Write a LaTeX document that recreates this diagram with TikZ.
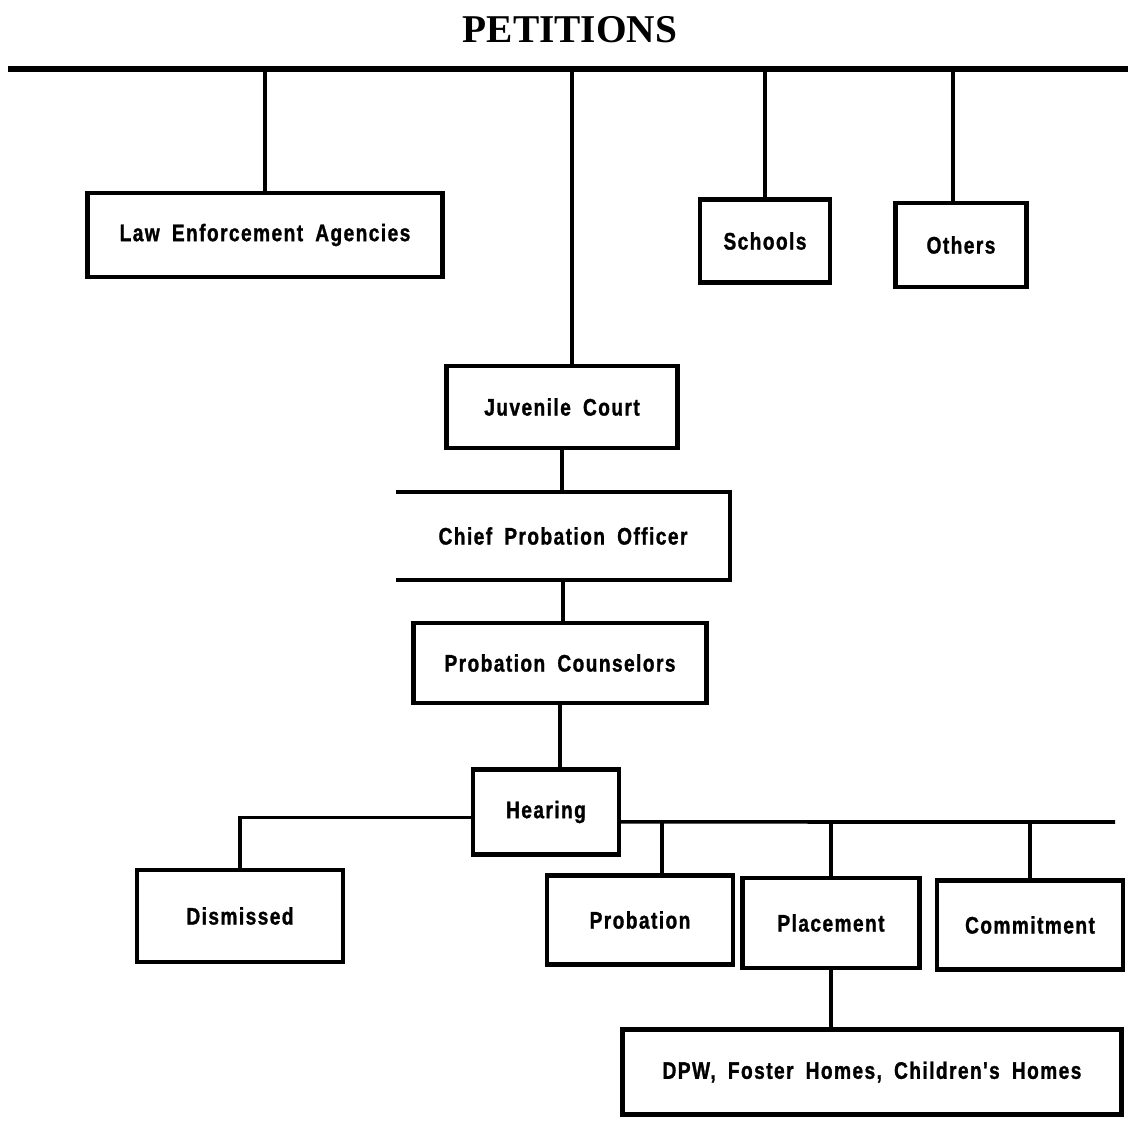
\documentclass[tikz,border=0pt]{standalone}
\usepackage{fontspec}
\setmainfont{Liberation Serif}
\newfontfamily\chartfont{Liberation Sans}[FakeStretch=0.8, FakeBold=1.2, LetterSpace=6, WordSpace=1.8]
\begin{document}
\begin{tikzpicture}[
x=0.025cm, y=-0.025cm,
box/.style={rectangle, draw, line width=3pt, inner sep=0pt, font=\chartfont\bfseries\fontsize{17}{19}\selectfont},
link/.style={line width=2.6pt},
]
\useasboundingbox (0,0) rectangle (1128,1120);
\node (title) at (570,30) {\bfseries\fontsize{28}{30}\selectfont PETITIONS};
\coordinate (topleft) at (8,69);
\coordinate (topright) at (1128,69);
\draw[line width=4pt] (topleft) -- (topright);

\node[box, minimum width=8.875cm, minimum height=2.1cm] (law) at (265,235) {Law Enforcement Agencies};
\node[box, minimum width=3.25cm, minimum height=2.075cm] (sch) at (765,241) {Schools};
\node[box, minimum width=3.275cm, minimum height=2.1cm] (oth) at (961,245) {Others};
\node[box, minimum width=5.775cm, minimum height=2.05cm] (jc) at (562,407) {Juvenile Court};
\node[box, draw=none, minimum width=8.25cm, minimum height=2.1cm] (chief) at (563,536) {Chief Probation Officer};
\draw[line width=3pt] (chief.north west) -- (chief.north east) -- (chief.south east) -- (chief.south west);
\node[box, minimum width=7.325cm, minimum height=2cm] (cou) at (560,663) {Probation Counselors};
\node[box, minimum width=3.65cm, minimum height=2.125cm] (hear) at (546,812) {Hearing};
\node[box, minimum width=5.15cm, minimum height=2.3cm] (dism) at (240,916) {Dismissed};
\node[box, minimum width=4.65cm, minimum height=2.225cm] (prob) at (640,920) {Probation};
\node[box, minimum width=4.425cm, minimum height=2.25cm] (pla) at (831,923) {Placement};
\node[box, minimum width=4.65cm, minimum height=2.225cm] (com) at (1030,925) {Commitment};
\node[box, minimum width=12.475cm, minimum height=2.125cm] (dpw) at (872,1072) {DPW, Foster Homes, Children's Homes};

\coordinate (jtop) at (572,69);
\coordinate (otop) at (953,69);
\draw[link] (law.north) -- (law.north |- topleft);
\draw[link] (sch.north) -- (sch.north |- topleft);
\draw[link] (otop) -- (otop |- oth.north);
\draw[link] (jtop) -- (jtop |- jc.north);
\draw[link] (jc.south) -- (jc.south |- chief.north);
\draw[link] (chief.south) -- (chief.south |- cou.north);
\draw[link] (cou.south) -- (cou.south |- hear.north);
\draw[link] ([yshift=-4pt]hear.west) -| (dism.north);
\coordinate (rightend) at (1115,822);
\coordinate (dprob) at (662,822);
\draw[link] ([yshift=-7pt]hear.east) -- (rightend);
\draw[link] (dprob) -- (dprob |- prob.north);
\draw[link] (pla.north) -- (pla.north |- rightend);
\draw[link] (com.north) -- (com.north |- rightend);
\draw[link] (pla.south) -- (pla.south |- dpw.north);
\end{tikzpicture}
\end{document}
